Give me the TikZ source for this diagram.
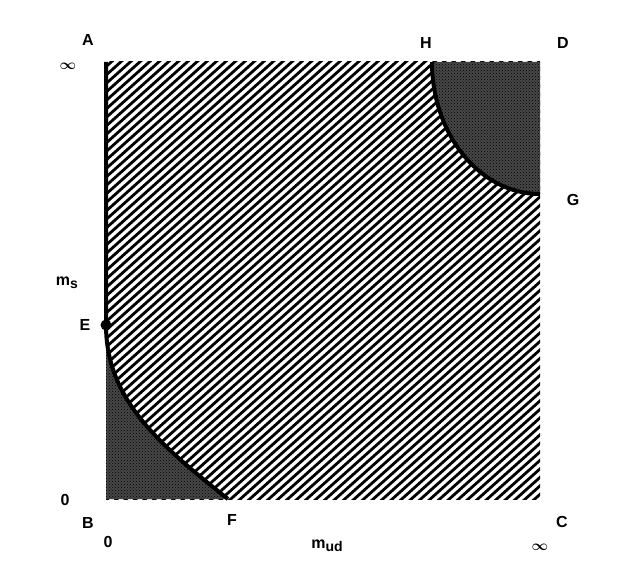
\documentclass[tikz,border=0pt]{standalone}
\usepackage{amsmath,bm}
\usepackage{fontspec}
\setmainfont{Liberation Sans}
\usetikzlibrary{patterns}

\begin{document}
\begin{tikzpicture}[x=1pt,y=-1pt,
  lab/.style={font=\fontsize{16}{16}\selectfont\bfseries},
  inf/.style={font=\fontsize{15}{15}\selectfont},
  edge/.style={line width=4pt},
  hatch/.style={line width=2.8pt},
  stip/.style={fill=black!72,postaction={pattern=crosshatch dots,pattern color=black}}]
  \useasboundingbox (0,0) rectangle (628,564);
  % corners of the (m_ud,m_s) plane, y grows downwards
  \coordinate (A) at (106,62);
  \coordinate (B) at (106,499);
  \coordinate (C) at (540,499);
  \coordinate (D) at (540,62);
  \coordinate (E) at (106,325);
  \coordinate (F) at (228,499);
  \coordinate (G) at (540,194);
  \coordinate (H) at (432,62);
  % hatched crossover region
  \begin{scope}
    \clip (A) rectangle (C);
    \foreach \k in {11,...,117}{\draw[hatch] (\k*9.5,0) -- ++(-570,510);}
  \end{scope}
  % first order corners
  \fill[stip] (H) arc[start angle=180,end angle=90,x radius=108,y radius=132] -- (D) -- cycle;
  \fill[stip] (E) .. controls (106,400) and (160,445) .. (F) -- (B) -- cycle;
  % boundaries
  \draw[edge] (A) -- (E) .. controls (106,400) and (160,445) .. (F);
  \draw[edge] (H) arc[start angle=180,end angle=90,x radius=108,y radius=132];
  \fill (E) circle[radius=5.5];
  % labels
  \node[lab] (lA) at (88,40) {A};
  \node[inf] (lAinf) at (68,66) {$\bm{\infty}$};
  \node[lab] (lH) at (426,43) {H};
  \node[lab] (lD) at (563,43) {D};
  \node[lab] (lG) at (573,200) {G};
  \node[lab] (lms) at (67,283) {m\raisebox{-0.3ex}{\fontsize{14}{14}\selectfont s}};
  \node[lab] (lE) at (85,325) {E};
  \node[lab] (lBzero) at (65,500) {0};
  \node[lab] (lB) at (88,523) {B};
  \node[lab] (lmzero) at (108,542) {0};
  \node[lab] (lF) at (232,520) {F};
  \node[lab] (lmud) at (327,546) {m\raisebox{-0.3ex}{\fontsize{14}{14}\selectfont ud}};
  \node[lab] (lC) at (562,522) {C};
  \node[inf] (lCinf) at (540,547) {$\bm{\infty}$};
\end{tikzpicture}
\end{document}
